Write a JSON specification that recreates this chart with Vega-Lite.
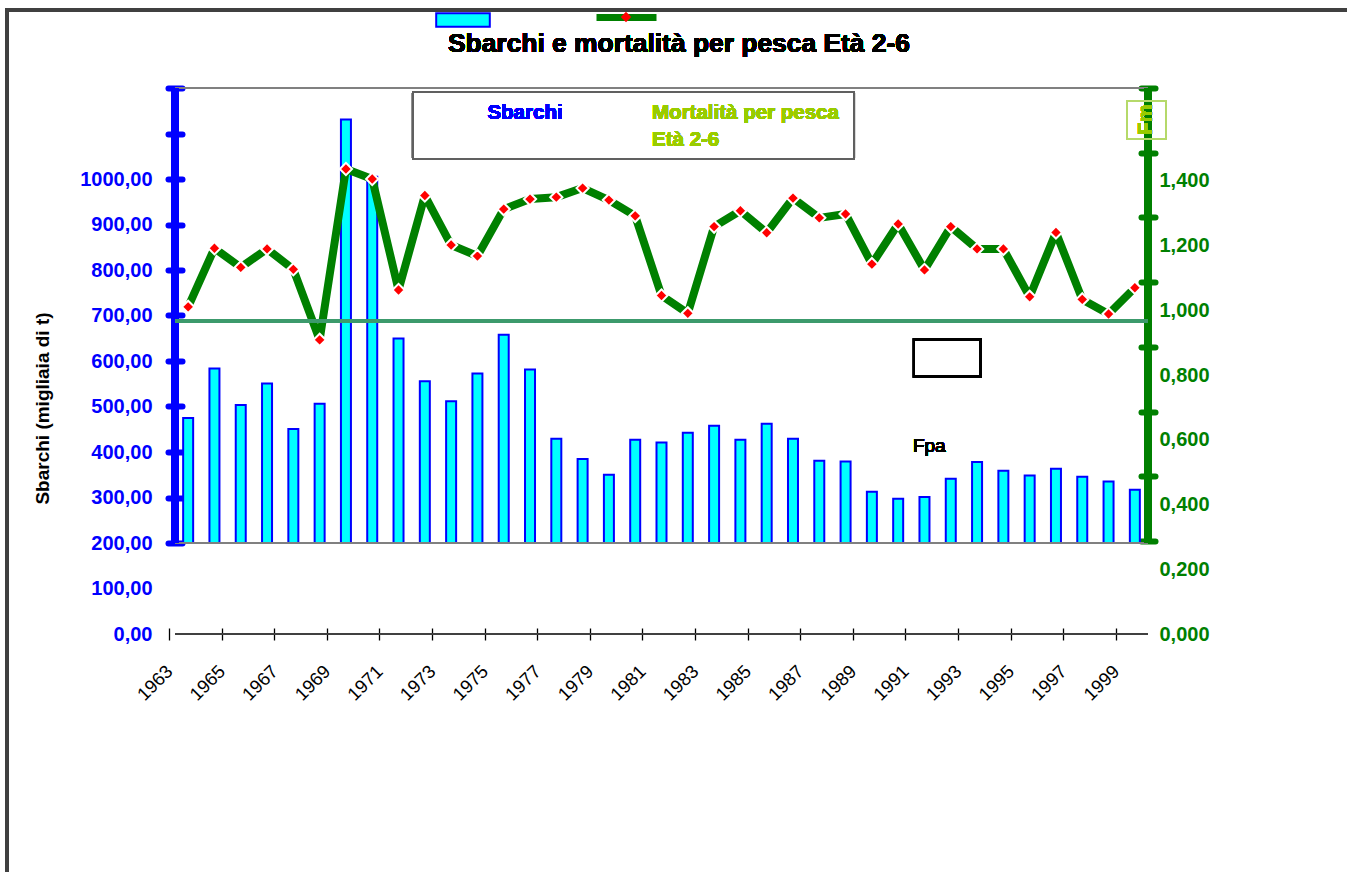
{
  "$schema": "https://vega.github.io/schema/vega-lite/v6.json",
  "width": 973,
  "height": 546,
  "autosize": {"type": "none"},
  "padding": {"left": 175, "top": 88, "right": 199, "bottom": 238},
  "background": "white",
  "config": {"view": {"stroke": null}, "font": "Liberation Sans"},
  "data": {"values": [
    {"year": 1963, "sbarchi": 474.8, "f": 1.011},
    {"year": 1964, "sbarchi": 583.3, "f": 1.192},
    {"year": 1965, "sbarchi": 503.3, "f": 1.133},
    {"year": 1966, "sbarchi": 550.3, "f": 1.190},
    {"year": 1967, "sbarchi": 450.5, "f": 1.127},
    {"year": 1968, "sbarchi": 506.3, "f": 0.909},
    {"year": 1969, "sbarchi": 1130.5, "f": 1.437},
    {"year": 1970, "sbarchi": 1005.0, "f": 1.406},
    {"year": 1971, "sbarchi": 649.4, "f": 1.063},
    {"year": 1972, "sbarchi": 555.4, "f": 1.355},
    {"year": 1973, "sbarchi": 511.4, "f": 1.202},
    {"year": 1974, "sbarchi": 572.3, "f": 1.168},
    {"year": 1975, "sbarchi": 657.5, "f": 1.313},
    {"year": 1976, "sbarchi": 581.1, "f": 1.344},
    {"year": 1977, "sbarchi": 429.2, "f": 1.350},
    {"year": 1978, "sbarchi": 384.5, "f": 1.378},
    {"year": 1979, "sbarchi": 350.0, "f": 1.341},
    {"year": 1980, "sbarchi": 427.0, "f": 1.292},
    {"year": 1981, "sbarchi": 421.1, "f": 1.046},
    {"year": 1982, "sbarchi": 442.4, "f": 0.991},
    {"year": 1983, "sbarchi": 457.8, "f": 1.259},
    {"year": 1984, "sbarchi": 427.0, "f": 1.308},
    {"year": 1985, "sbarchi": 462.2, "f": 1.240},
    {"year": 1986, "sbarchi": 429.2, "f": 1.347},
    {"year": 1987, "sbarchi": 380.8, "f": 1.286},
    {"year": 1988, "sbarchi": 379.3, "f": 1.298},
    {"year": 1989, "sbarchi": 312.6, "f": 1.143},
    {"year": 1990, "sbarchi": 297.2, "f": 1.267},
    {"year": 1991, "sbarchi": 300.9, "f": 1.125},
    {"year": 1992, "sbarchi": 341.2, "f": 1.259},
    {"year": 1993, "sbarchi": 377.9, "f": 1.190},
    {"year": 1994, "sbarchi": 358.8, "f": 1.190},
    {"year": 1995, "sbarchi": 348.5, "f": 1.042},
    {"year": 1996, "sbarchi": 363.2, "f": 1.241},
    {"year": 1997, "sbarchi": 345.6, "f": 1.034},
    {"year": 1998, "sbarchi": 335.2, "f": 0.989},
    {"year": 1999, "sbarchi": 317.0, "f": 1.070}
  ]},
  "layer": [
    {
      "layer": [
        {
          "mark": {"type": "bar", "size": 10, "stroke": "#0000FF", "strokeWidth": 2},
          "encoding": {
            "x": {"field": "year", "type": "quantitative", "title": null,
              "scale": {"domain": [1962.5, 1999.5], "nice": false, "zero": false, "padding": 0},
              "axis": {"values": [1962.5,1963.5,1964.5,1965.5,1966.5,1967.5,1968.5,1969.5,1970.5,1971.5,1972.5,1973.5,1974.5,1975.5,1976.5,1977.5,1978.5,1979.5,1980.5,1981.5,1982.5,1983.5,1984.5,1985.5,1986.5,1987.5,1988.5,1989.5,1990.5,1991.5,1992.5,1993.5,1994.5,1995.5,1996.5,1997.5,1998.5,1999.5],
                "labelExpr": "(datum.value + 0.5) % 2 == 1 ? format(datum.value + 0.5, 'd') : ''",
                "domain": false, "grid": false, "offset": -6, "tickOffset": -6, "tickSize": 12, "tickColor": "#000000", "tickWidth": 1.3,
                "labelAngle": -45, "labelAlign": "right", "labelBaseline": "middle", "labelPadding": 28,
                "labelFont": "Liberation Sans", "labelFontSize": 18.5, "labelColor": "#000000", "labelOverlap": false, "labelBound": false, "labelFlush": false}},
            "y": {"field": "sbarchi", "type": "quantitative",
              "scale": {"domain": [0, 1200], "nice": false, "zero": true},
              "axis": {"orient": "left", "values": [0,100,200,300,400,500,600,700,800,900,1000,1100,1200],
                "labelExpr": "datum.value <= 1000 ? replace(format(datum.value, '.2f'), '.', ',') : ''",
                "tickColor": {"condition": {"test": "datum.value < 150", "value": "transparent"}, "value": "#0000FF"},
                "tickSize": 14, "tickWidth": 6, "tickCap": "round", "offset": -7, "domain": false, "grid": false,
                "labelColor": "#0000FF", "labelFont": "Liberation Sans", "labelFontWeight": "bold", "labelFontSize": 20, "labelPadding": 16, "labelOverlap": false, "labelBound": false, "labelFlush": false,
                "title": "Sbarchi (migliaia di t)", "titleFont": "Liberation Sans", "titleFontSize": 19, "titleFontWeight": "bold", "titleColor": "#000000", "titleX": -140, "titleY": 320, "titleBaseline": "middle"}},
            "y2": {"datum": 200},
            "fill": {"datum": "Sbarchi", "scale": {"range": ["#00FFFF"]},
              "legend": {"orient": "none", "legendX": 260, "legendY": -96, "title": null, "labelExpr": "''", "symbolType": "M-1,-0.25H1V0.25H-1Z", "symbolSize": 2873, "symbolStrokeColor": "#0000FF", "symbolStrokeWidth": 2, "padding": 0, "symbolOffset": 0, "labelOffset": 0}}
          }
        },
        {"mark": {"type": "rule", "color": "#808080", "strokeWidth": 2}, "encoding": {"y": {"datum": 1200}}},
        {"mark": {"type": "rule", "color": "#808080", "strokeWidth": 2}, "encoding": {"y": {"datum": 200}}},
        {"mark": {"type": "rule", "color": "#404040", "strokeWidth": 1.5}, "encoding": {"y": {"datum": 0}}},
        {"mark": {"type": "rule", "color": "#0000FF", "strokeWidth": 7}, "encoding": {"x": {"datum": 1962.5}, "y": {"datum": 200}, "y2": {"datum": 1200}}},
        {"mark": {"type": "rule", "color": "#008000", "strokeWidth": 7}, "encoding": {"x": {"datum": 1999.5}, "y": {"datum": 200}, "y2": {"datum": 1200}}},
        {"mark": {"type": "rect", "fill": "transparent", "stroke": "#B5D96A", "strokeWidth": 1.5}, "encoding": {"x": {"datum": 1998.70}, "x2": {"datum": 2000.18}, "y": {"datum": 1172.1}, "y2": {"datum": 1087.9}}},
        {"mark": {"type": "text", "text": "Fm", "angle": 270, "align": "center", "baseline": "middle", "font": "Liberation Sans", "fontSize": 20, "fontWeight": "bold", "color": "#99CC00"}, "encoding": {"x": {"datum": 1999.41}, "y": {"datum": 1130.8}}},
        {"mark": {"type": "rect", "fill": "transparent", "stroke": "#606060", "strokeWidth": 1.5}, "encoding": {"x": {"datum": 1971.54}, "x2": {"datum": 1988.33}, "y": {"datum": 1191.9}, "y2": {"datum": 1043.3}}},
        {"mark": {"type": "text", "text": "Sbarchi", "align": "center", "baseline": "alphabetic", "font": "Liberation Sans", "fontSize": 20.5, "fontWeight": "bold", "color": "#0000FF"}, "encoding": {"x": {"datum": 1975.81}, "y": {"datum": 1131.9}}},
        {"mark": {"type": "text", "text": "Mortalità per pesca", "align": "left", "baseline": "alphabetic", "font": "Liberation Sans", "fontSize": 20.5, "fontWeight": "bold", "color": "#99CC00"}, "encoding": {"x": {"datum": 1980.64}, "y": {"datum": 1131.9}}},
        {"mark": {"type": "text", "text": "Età 2-6", "align": "left", "baseline": "alphabetic", "font": "Liberation Sans", "fontSize": 20.5, "fontWeight": "bold", "color": "#99CC00"}, "encoding": {"x": {"datum": 1980.64}, "y": {"datum": 1073.2}}},
        {"mark": {"type": "rect", "fill": "transparent", "stroke": "#000000", "strokeWidth": 2}, "encoding": {"x": {"datum": 1990.60}, "x2": {"datum": 1993.14}, "y": {"datum": 647.7}, "y2": {"datum": 565.5}}},
        {"mark": {"type": "text", "text": "Fpa", "align": "left", "baseline": "alphabetic", "font": "Liberation Sans", "fontSize": 19, "fontWeight": "normal", "color": "#000000"}, "encoding": {"x": {"datum": 1990.56}, "y": {"datum": 400}}},
        {"mark": {"type": "text", "text": "Sbarchi e mortalità per pesca Età 2-6", "align": "center", "baseline": "alphabetic", "font": "Liberation Sans", "fontSize": 26.4, "fontWeight": "bold", "color": "#000000"}, "encoding": {"x": {"datum": 1981.665}, "y": {"datum": 1280.2}}},
        {"mark": {"type": "rect", "fill": "transparent", "stroke": "#404040", "strokeWidth": 3}, "encoding": {"x": {"datum": 1956.11}, "x2": {"datum": 2008}, "y": {"datum": 1371.4}, "y2": {"datum": -600}}}
      ]
    },
    {
      "layer": [
        {
          "mark": {"type": "line", "strokeWidth": 8, "strokeJoin": "bevel", "strokeCap": "butt"},
          "encoding": {
            "x": {"field": "year", "type": "quantitative", "title": null},
            "y": {"field": "f", "type": "quantitative",
              "scale": {"domain": [0, 1.6873], "nice": false, "zero": true},
              "axis": {"orient": "right", "values": [0,0.2,0.4,0.6,0.8,1,1.2,1.4],
                "labelExpr": "replace(format(datum.value, '.3f'), '.', ',')",
                "tickColor": "transparent", "tickSize": 14, "tickWidth": 1, "offset": -7, "domain": false, "grid": false,
                "labelColor": "#008000", "labelFont": "Liberation Sans", "labelFontWeight": "bold", "labelFontSize": 20, "labelPadding": 4, "labelOverlap": false, "labelBound": false, "labelFlush": false,
                "title": null}},
            "stroke": {"datum": "F", "scale": {"range": ["#008000"]},
              "legend": {"orient": "none", "legendX": 418, "legendY": -104, "title": null, "labelExpr": "''", "symbolType": "stroke", "symbolSize": 3600, "symbolStrokeWidth": 7, "padding": 0, "symbolOffset": 0, "labelOffset": 0, "zindex": 0}}
          }
        },
        {
          "mark": {"type": "point", "filled": true, "fill": "#FF0000", "stroke": "#FFFFFF", "strokeWidth": 2, "size": 150, "opacity": 1},
          "encoding": {
            "x": {"field": "year", "type": "quantitative"},
            "y": {"field": "f", "type": "quantitative"},
            "shape": {"datum": "Fm", "scale": {"range": ["diamond"]},
              "legend": {"orient": "none", "legendX": 445, "legendY": -77, "title": null, "labelExpr": "''", "symbolFillColor": "#FF0000", "symbolStrokeColor": "#FFFFFF", "symbolStrokeWidth": 1.5, "symbolSize": 110, "padding": 0, "symbolOffset": 0, "labelOffset": 0, "zindex": 2}}
          }
        }
      ]
    },
    {
      "layer": [
        {"mark": {"type": "rule", "color": "#3C9A6C", "strokeWidth": 3.5},
         "encoding": {"y": {"datum": 0.967, "type": "quantitative",
           "scale": {"domain": [0, 1.6873], "nice": false, "zero": true},
           "axis": {"orient": "right", "values": [0.2873,0.4873,0.6873,0.8873,1.0873,1.2873,1.4873,1.6873],
             "labels": false, "tickColor": "#008000", "tickSize": 14, "tickWidth": 6, "tickCap": "round", "offset": -7, "domain": false, "grid": false, "title": null}}}}
      ]
    }
  ],
  "resolve": {"scale": {"y": "independent"}}
}
